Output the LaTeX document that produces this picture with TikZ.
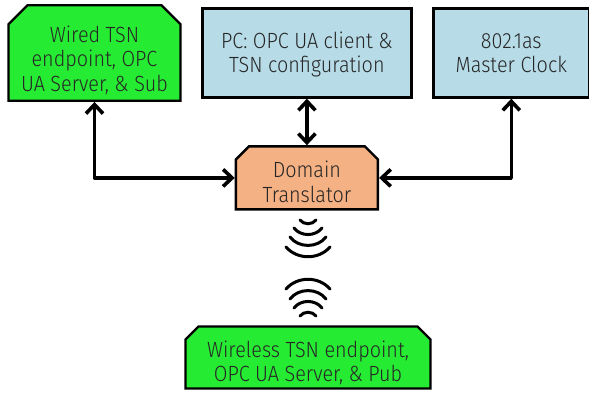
\documentclass[tikz,border=0pt]{standalone}
\usepackage{fontspec}
\setmainfont[FakeStretch=0.9]{Fira Sans Light}
\usetikzlibrary{positioning, shapes.misc, arrows.meta}
\definecolor{boxgreen}{HTML}{26EB33}
\definecolor{boxblue}{HTML}{B7DCE8}
\definecolor{boxorange}{HTML}{F4B183}
\definecolor{boxtext}{HTML}{262626}

\begin{document}
\begin{tikzpicture}[
    x=1pt, y=1pt,
    % Define custom styles for the boxes
    mybox/.style={
        draw,
        rectangle,
        line width=2.4pt,
        align=center,
        text=boxtext,
        font=\fontsize{22}{24.5}\selectfont,
        inner sep=0pt,
        text height=39pt,
        text depth=0pt
    },
    mycut/.style={
        mybox,
        chamfered rectangle,
        chamfered rectangle corners={north west,north east},
        chamfered rectangle xsep=6.5pt,
        chamfered rectangle ysep=6.5pt,
        text height=48.5pt
    },
    myarrow/.style={line width=3.6pt, line cap=round, line join=round, {Straight Barb[length=9pt,width=17pt,line width=3.6pt]}-{Straight Barb[length=9pt,width=17pt,line width=3.6pt]}},
    mywave/.style={line width=3pt, line cap=round}
]
\useasboundingbox (0,0) rectangle (589,392);

% Define nodes using the custom styles
\node[mycut,fill=boxgreen,minimum width=172pt,minimum height=89pt,chamfered rectangle xsep=9.5pt,chamfered rectangle ysep=9.5pt,text height=76.5pt] (wired) at (94.5,339) {Wired TSN\\endpoint, OPC\\UA Server, \& Sub};
\node[mybox,fill=boxblue,minimum width=209pt,minimum height=89pt,right=19.5pt of wired] (pc) {PC: OPC UA client \&\\TSN configuration};
\node[mybox,fill=boxblue,minimum width=156pt,minimum height=89pt,right=19.5pt of pc] (clock) {802.1as\\Master Clock};
\node[mycut,fill=boxorange,minimum width=142pt,minimum height=63pt,below=46.5pt of pc] (domain) {Domain\\Translator};
\node[mycut,fill=boxgreen,minimum width=245pt,minimum height=62pt] (wireless) at (308,34.5) {Wireless TSN endpoint,\\OPC UA Server, \& Pub};

% Edges between the boxes
\draw[myarrow] (wired.south) |- (domain.west);
\draw[myarrow] (pc.south) -- (domain.north);
\draw[myarrow] (clock.south) |- (domain.east);

% Wireless link, mirrored about y=124
\foreach \w/\d/\s/\a in {22/135/10/49, 18/146/9/53, 14/157/7/53, 8/168/4/53} {
    \draw[mywave] (308-\w,\d+\s) to[bend right=\a] (308+\w,\d+\s);
    \draw[mywave] (308-\w,248-\d-\s) to[bend left=\a] (308+\w,248-\d-\s);
}
\end{tikzpicture}
\end{document}
